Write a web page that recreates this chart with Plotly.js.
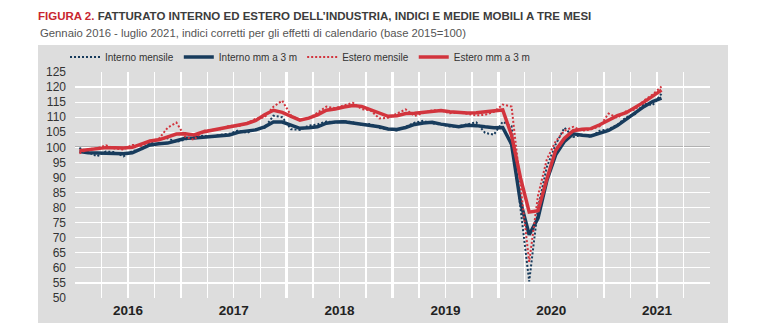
<!DOCTYPE html>
<html>
<head>
<meta charset="utf-8">
<script src="https://cdn.plot.ly/plotly-3.0.1.min.js"></script>
<style>
html,body{margin:0;padding:0;background:#fff;}
#chart{width:768px;height:333px;}
</style>
</head>
<body>
<div id="chart"></div>
<script>
// Months Jan 2016 .. Jul 2021
const startYear = 2016;
const nMonths = 67;
const years = ["2016","2017","2018","2019","2020","2021"];

const interno_mensile = [
  99.8, 98.5, 97.0, 98.6, 98.4, 97.0, 98.8, 99.2, 101.5, 102.8, 103.0, 101.8,
  102.6, 103.4, 103.8, 103.5, 104.2, 104.5, 105.6, 104.8, 106.0, 106.5, 110.5, 110.0,
  106.0, 105.8, 107.2, 107.6, 108.6, 108.2, 108.7, 108.3, 107.4, 107.8, 106.4, 106.0,
  105.6, 106.8, 108.2, 108.8, 107.9, 107.6, 106.9, 107.0, 107.6, 108.3, 104.8, 104.2,
  108.5, 107.0, 80.0, 55.5, 80.0, 93.5, 101.0, 106.5, 103.5, 104.2, 103.5, 105.5,
  106.0, 107.5, 110.0, 111.0, 114.5, 114.0, 117.8
];
const interno_mm3 = [
  98.6, 98.2, 98.1, 98.1, 98.0, 97.9, 98.2, 99.6, 100.8, 101.2, 101.4, 102.2,
  103.0, 103.1, 103.3, 103.7, 103.8, 104.1, 105.0, 105.3, 105.8, 106.8, 108.4, 108.4,
  107.5, 106.3, 106.5, 106.8, 108.0, 108.4, 108.5, 108.1, 107.6, 107.3, 106.8, 106.1,
  105.9, 106.6, 107.6, 108.1, 108.3, 107.7, 107.2, 106.8, 107.3, 107.2, 106.8, 106.5,
  106.6, 101.0, 82.0, 71.0, 76.5, 89.0, 97.5, 102.0, 104.5, 104.0, 103.8, 104.6,
  105.6, 107.2, 109.3, 111.5, 113.5, 115.2, 116.3
];
const estero_mensile = [
  98.0, 99.4, 99.6, 100.7, 99.6, 99.3, 100.8, 100.5, 102.0, 102.8, 106.5, 108.2,
  103.5, 102.5, 105.5, 105.8, 106.0, 107.2, 107.0, 108.0, 109.5, 110.0, 113.5, 115.5,
  110.5, 109.2, 109.6, 111.5, 113.5, 113.0, 113.8, 114.8, 112.7, 112.3, 109.6, 109.8,
  111.2, 112.6, 110.4, 111.4, 112.3, 112.2, 111.3, 111.6, 111.0, 110.6, 110.8, 111.8,
  114.2, 113.5, 87.5, 62.0, 84.0, 96.0, 102.0, 105.5, 106.8, 105.5, 106.0, 107.0,
  111.2, 109.8, 112.0, 112.5, 115.5, 117.5, 120.2
];
const estero_mm3 = [
  98.9, 99.3, 99.6, 99.9, 99.9, 99.8, 100.0, 101.2, 102.1, 102.5, 103.6, 104.4,
  104.5, 104.1, 105.1, 105.7, 106.2, 106.7, 107.3, 107.9, 108.9, 110.8, 112.3, 111.6,
  110.3, 109.0, 109.7, 110.8, 112.3, 112.7, 113.4, 113.9, 113.6, 112.6, 111.6, 110.3,
  110.5, 111.2, 111.3, 111.6, 112.0, 112.2, 111.8, 111.5, 111.4, 111.5, 111.8, 112.2,
  112.4, 104.0, 90.0, 78.5, 79.0, 89.5, 99.0, 103.0, 105.5, 106.0, 106.2, 107.5,
  109.0, 110.5, 111.5, 113.2, 115.0, 117.0, 119.0
];

// x position: middle of each month, in fractional years
const xs = [];
for (let i = 0; i < nMonths; i++) xs.push(startYear + (i + 0.5) / 12);
const yearCenters = years.map((y) => Number(y) + 0.5);

const BLUE = "#173b5c";
const RED = "#d2343d";

const traces = [
  {name: "Interno mensile", x: xs, y: interno_mensile, type: "scatter", mode: "lines",
   line: {color: BLUE, width: 2, dash: "2px,2px"}},
  {name: "Interno mm a 3 m", x: xs, y: interno_mm3, type: "scatter", mode: "lines",
   line: {color: BLUE, width: 3.5}},
  {name: "Estero mensile", x: xs, y: estero_mensile, type: "scatter", mode: "lines",
   line: {color: RED, width: 2, dash: "2px,2px"}},
  {name: "Estero mm a 3 m", x: xs, y: estero_mm3, type: "scatter", mode: "lines",
   line: {color: RED, width: 3.5}},
  // invisible trace to activate xaxis2 (year labels)
  {x: yearCenters, y: yearCenters.map(() => 100), xaxis: "x2", yaxis: "y", type: "scatter",
   mode: "markers", marker: {opacity: 0}, showlegend: false, hoverinfo: "skip"}
];

const W = 768, H = 333;
const L = 75, R = 58, T = 72, B = 35;
const pw = W - L - R, ph = H - T - B;
const px = (p) => (p - L) / pw;
const py = (p) => (H - B - p) / ph;

const layout = {
  width: W, height: H,
  margin: {l: L, r: R, t: T, b: B, pad: 0},
  paper_bgcolor: "#ffffff",
  plot_bgcolor: "#dddddd",
  font: {family: "Liberation Sans, Arial, sans-serif", color: "#333333"},
  title: {
    text: '<span style="color:#c8262f">FIGURA 2.</span> FATTURATO INTERNO ED ESTERO DELL\u2019INDUSTRIA, INDICI E MEDIE MOBILI A TRE MESI',
    font: {family: "Liberation Sans, Arial, sans-serif", size: 11.5, color: "#3c3c3c", weight: "bold"},
    xref: "container", yref: "container", x: 38 / W, xanchor: "left", y: 1 - 16 / H, yanchor: "middle"
  },
  annotations: [{
    text: "Gennaio 2016 - luglio 2021, indici corretti per gli effetti di calendario (base 2015=100)",
    xref: "paper", yref: "paper", x: px(38), y: py(33), xanchor: "left", yanchor: "middle",
    showarrow: false, font: {family: "Liberation Sans, Arial, sans-serif", size: 11.3, color: "#555555"}
  }],
  shapes: [
    {type: "rect", xref: "paper", yref: "paper", x0: px(38), x1: px(728), y0: py(323), y1: py(45),
     fillcolor: "#dddddd", line: {width: 0}, layer: "below"},
    {type: "line", xref: "paper", yref: "y", x0: 0, x1: 1, y0: 100, y1: 100,
     line: {color: "#333333", width: 1.2}, layer: "below"}
  ],
  xaxis: {
    range: [2016, 2022], tickmode: "linear", tick0: 2016, dtick: 1,
    showgrid: true, gridcolor: "#ffffff", gridwidth: 2.5,
    showticklabels: false, ticks: "", zeroline: false, showline: false, fixedrange: true,
    minor: {tickmode: "linear", tick0: 2016, dtick: 0.25, showgrid: true, gridcolor: "#ffffff", gridwidth: 1.3, ticks: ""}
  },
  xaxis2: {
    overlaying: "x", anchor: "y", side: "bottom", range: [2016, 2022],
    tickmode: "array", tickvals: yearCenters, ticktext: years,
    showgrid: false, zeroline: false, ticks: "", showline: false,
    tickfont: {size: 13.5, color: "#222222", weight: "bold"}, ticklabelstandoff: 2
  },
  yaxis: {
    range: [50, 125], tickmode: "linear", tick0: 50, dtick: 5,
    showgrid: true, gridcolor: "#ffffff", gridwidth: 1.2, zeroline: false, ticks: "",
    tickfont: {size: 12, color: "#333333"}, ticklabelstandoff: 8, fixedrange: true
  },
  showlegend: true,
  legend: {
    orientation: "h", x: px(65), xanchor: "left", y: py(57), yanchor: "middle",
    bgcolor: "rgba(0,0,0,0)", font: {family: "Liberation Sans, Arial, sans-serif", size: 10, color: "#333333"},
    itemwidth: 30, traceorder: "normal"
  }
};

Plotly.newPlot("chart", traces, layout, {staticPlot: true, displayModeBar: false});
</script>
</body>
</html>
